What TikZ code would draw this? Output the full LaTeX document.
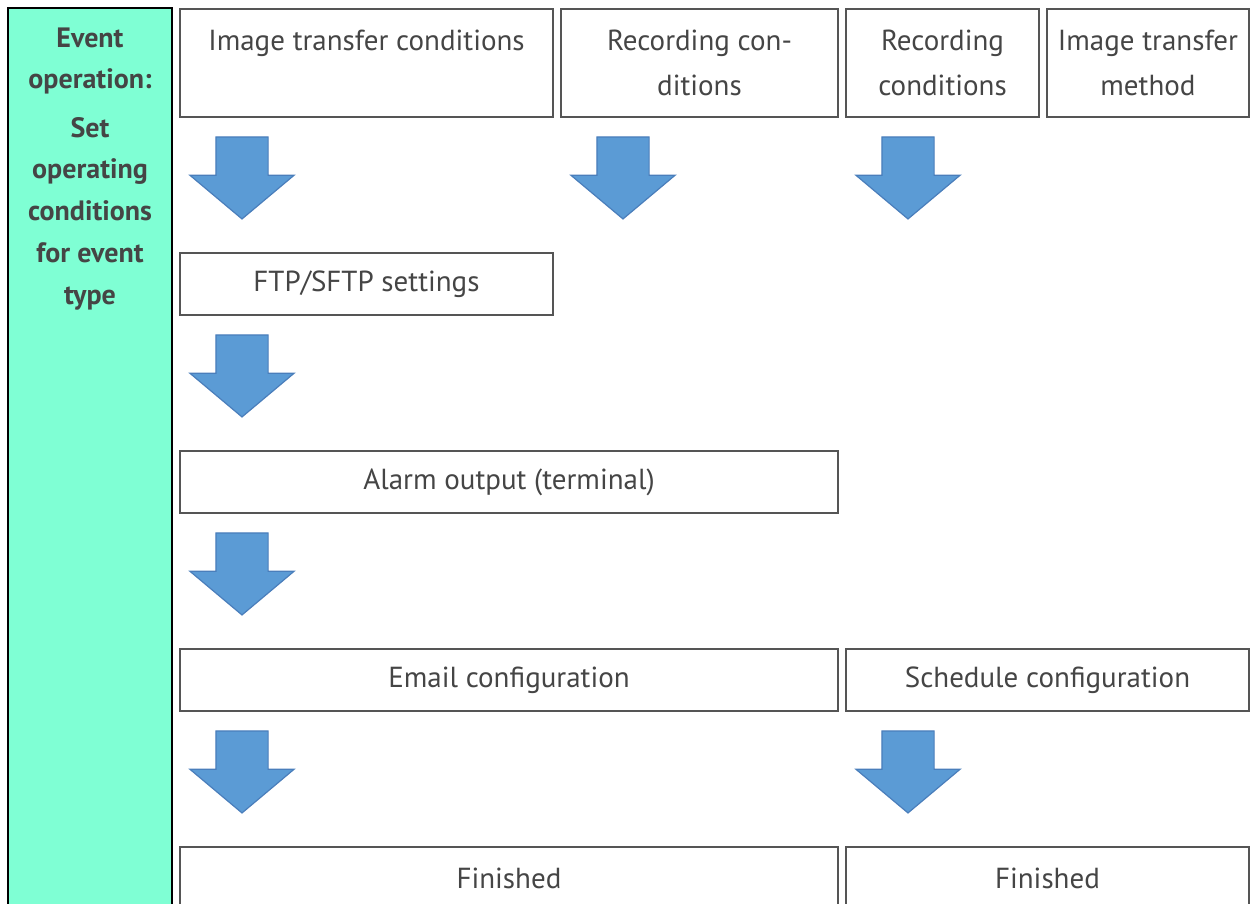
\documentclass[tikz,border=0pt]{standalone}
\usepackage{fontspec}
\setmainfont{PT Sans}
\usetikzlibrary{positioning, calc, shapes.arrows}
\definecolor{stageGreen}{HTML}{7FFFD4}
\definecolor{boxInk}{HTML}{454545}
\definecolor{boxLine}{HTML}{555555}
\definecolor{flowBlue}{HTML}{5B9BD5}
\definecolor{flowEdge}{HTML}{4A7EBB}
\tikzset{
  stepbox/.style={draw=boxLine, line width=1pt, fill=white, outer sep=0pt, inner sep=0pt,
                  minimum height=31pt, text=boxInk, align=center,
                  font=\fontsize{14.5}{22.5}\selectfont},
  tallbox/.style={stepbox, minimum height=54pt},
  downflow/.style={single arrow, draw=flowEdge, line width=0.6pt, fill=flowBlue,
                   shape border rotate=270, inner xsep=12.75pt, inner ysep=0pt,
                   minimum height=41pt, single arrow head extend=13pt,
                   single arrow tip angle=100},
}

\begin{document}
\begin{tikzpicture}[x=0.5pt, y=-0.5pt]
\clip (0,0) rectangle (1250,904);
\node[draw=black, line width=1pt, fill=stageGreen, anchor=north west, outer sep=0pt,
      minimum width=82pt, minimum height=460pt] (stage) at (8,8) {};
\node[anchor=north, align=center, text=boxInk, inner sep=0pt,
      font=\fontsize{14}{21}\selectfont\bfseries] (stagelbl) at (90,27)
      {Event\\operation:\\[3pt]Set\\operating\\conditions\\for event\\type};
% first row
\node[tallbox, anchor=north west, minimum width=186.5pt] (imgcond) at (180,9)
      {Image transfer conditions\\\phantom{ditions}};
\node[tallbox, right=4pt of imgcond, minimum width=138.5pt] (reccond) {Recording con-\\ditions};
\node[tallbox, right=4pt of reccond, minimum width=96.5pt] (reccondb) {Recording\\conditions};
\node[tallbox, right=4pt of reccondb, minimum width=101pt] (imgmethod) {Image transfer\\method};
% later rows
\node[stepbox, anchor=north west, minimum width=186.5pt] (ftp) at (180,253) {FTP/SFTP settings};
\node[stepbox, anchor=north west, minimum width=329pt] (alarm) at (180,451) {Alarm output (terminal)};
\node[stepbox, anchor=north west, minimum width=329pt] (email) at (180,649) {Email configuration};
\node[stepbox, right=4pt of email, minimum width=201.5pt] (sched) {Schedule configuration};
\node[stepbox, anchor=north west, minimum width=329pt] (donea) at (180,847) {Finished};
\node[stepbox, right=4pt of donea, minimum width=201.5pt] (doneb) {Finished};
\foreach \src in {imgcond, reccond, reccondb, ftp, alarm, email, sched}{
  \node[downflow] (flow-\src) at ($(\src.south west)+(62,50)$) {};
}
\end{tikzpicture}
\end{document}
